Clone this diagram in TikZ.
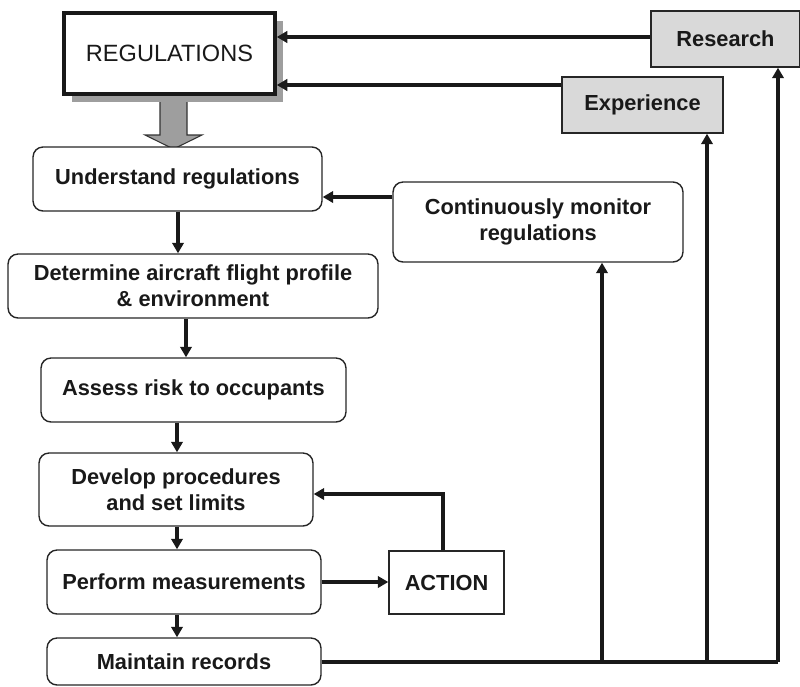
\documentclass[tikz,border=0pt]{standalone}
\usepackage{fontspec}
\setmainfont{Liberation Sans}
\usetikzlibrary{arrows.meta}
\begin{document}
\begin{tikzpicture}[x=0.02cm,y=-0.02cm,
		stepbox/.style={draw=black!85,line width=0.8pt,rounded corners=0.2cm,fill=white,align=center,inner sep=0pt,text=black!90,font=\fontsize{12.4}{15}\selectfont\bfseries},
		plainbox/.style={draw=black!85,line width=0.8pt,fill=white,align=center,inner sep=0pt,text=black!90,font=\fontsize{12.4}{15}\selectfont\bfseries},
		srcbox/.style={plainbox,fill=black!15},
		flow/.style={line width=1.8pt,draw=black!90,-{Triangle[length=6pt,width=6.5pt]}},
		feed/.style={line width=1.8pt,draw=black!90}]
			\useasboundingbox (0,0) rectangle (800,686);
			\filldraw[fill=black!38, draw=black!80, line width=0.6pt] (160,94) -- (160,135) -- (145,135) -- (173.5,149) -- (202,135) -- (187,135) -- (187,94) -- cycle;
			\fill[black!38] (72,21) rectangle (283,102);
			\node[draw=black!90, line width=2pt, fill=white, inner sep=0pt, minimum width=4.22cm, minimum height=1.62cm, font=\fontsize{13.4}{16}\selectfont, text=black!90] (reg) at (169.5,53.5) {REGULATIONS};
			\node[srcbox, minimum width=2.98cm, minimum height=1.12cm] (res) at (725.5,39) {Research};
			\node[srcbox, minimum width=3.22cm, minimum height=1.12cm] (exp) at (642.5,105) {Experience};
			\node[stepbox, minimum width=5.78cm, minimum height=1.28cm] (und) at (177.5,179) {Understand regulations};
			\node[stepbox, minimum width=5.80cm, minimum height=1.60cm] (mon) at (538,222) {Continuously monitor\\regulations};
			\node[stepbox, minimum width=7.40cm, minimum height=1.28cm] (det) at (193,286) {Determine aircraft flight profile\\\& environment};
			\node[stepbox, minimum width=6.10cm, minimum height=1.28cm] (ass) at (193.5,390) {Assess risk to occupants};
			\node[stepbox, minimum width=5.48cm, minimum height=1.46cm] (dev) at (176,489.5) {Develop procedures\\and set limits};
			\node[stepbox, minimum width=5.48cm, minimum height=1.28cm] (per) at (184,582) {Perform measurements};
			\node[plainbox, minimum width=2.30cm, minimum height=1.26cm] (act) at (446.5,582.5) {ACTION};
			\node[stepbox, minimum width=5.48cm, minimum height=0.94cm] (mai) at (184,661.5) {Maintain records};
			\coordinate (b1) at (602,662);
			\coordinate (b2) at (707,662);
			\coordinate (b3) at (778,662);
			\draw[flow] (res.west |- 0,37) -- (reg.east |- 0,37);
			\draw[flow] (exp.west |- 0,85) -- (reg.east |- 0,85);
			\draw[flow] (mon.west |- 0,197) -- (und.east |- 0,197);
			\draw[flow] (und.south -| 178,0) -- (det.north -| 178,0);
			\draw[flow] (det.south -| 186,0) -- (ass.north -| 186,0);
			\draw[flow] (ass.south -| 177,0) -- (dev.north -| 177,0);
			\draw[flow] (dev.south -| 177,0) -- (per.north -| 177,0);
			\draw[flow] (per.south -| 177,0) -- (mai.north -| 177,0);
			\draw[flow] (per.east) -- (act.west |- per.east);
			\draw[flow] (act.north -| 443,0) |- (dev.east |- 0,494);
			\draw[feed] (mai.east |- b1) -- (b3);
			\draw[flow] (b1) -- (b1 |- mon.south);
			\draw[flow] (b2) -- (b2 |- exp.south);
			\draw[flow] (b3) -- (b3 |- res.south);
		\end{tikzpicture}
\end{document}
